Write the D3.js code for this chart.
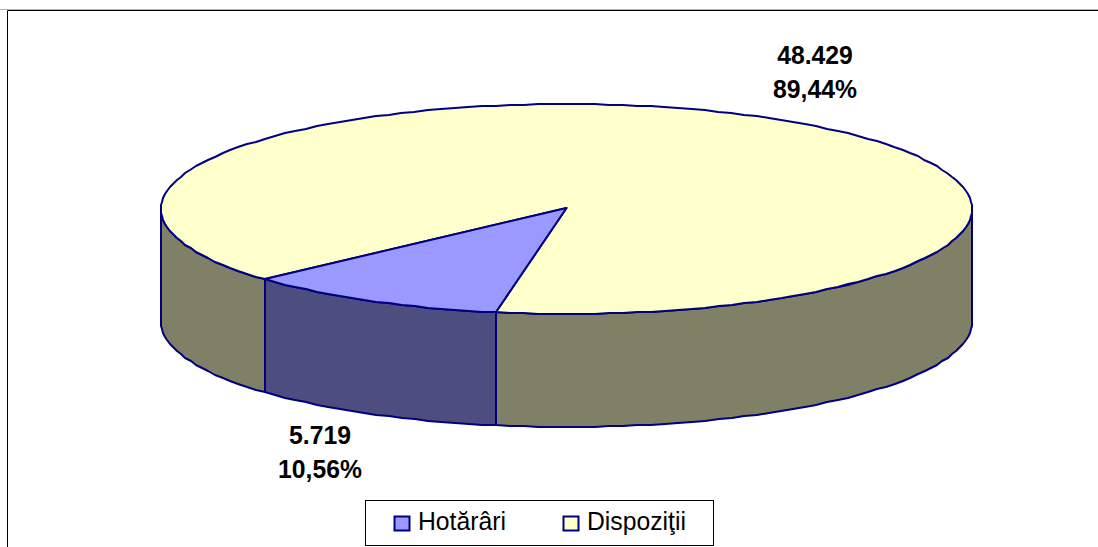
<!DOCTYPE html>
<html>
<head>
<meta charset="utf-8">
<script src="https://cdn.jsdelivr.net/npm/d3@7"></script>
<style>
html,body{margin:0;padding:0;background:#fff;overflow:hidden}
svg{display:block}
text{font-family:"Liberation Sans",Arial,sans-serif;fill:#000}
</style>
</head>
<body>
<svg id="c" width="1098" height="547"></svg>
<script>
const categories = ["Hotărâri", "Dispoziţii"];
const values = [5719, 48429];
const valueLabels = ["5.719", "48.429"];
const percentLabels = ["10,56%", "89,44%"];
const topColors = ["#9999FF", "#FFFFCC"];
const sideColors = ["#4D4D80", "#808066"];
const outline = "#000080";

const svg = d3.select("#c");
const W = 1098, H = 547;
const x = d3.scaleLinear().domain([-1, 1]).range([161, 972]);
const y = d3.scaleLinear().domain([-1, 1]).range([314, 104]);
const depth = 113;
const frontOffset = 0.174;
const start = Math.PI + frontOffset;
const arcs = d3.pie().sort(null).startAngle(start).endAngle(start + 2 * Math.PI)(values);

const px = t => Math.round(x(Math.sin(t)));
const py = (t, dy = 0) => Math.round(y(Math.cos(t))) + dy;
function samples(a, b) {
  const n = Math.max(2, Math.ceil(Math.abs(b - a) / 0.035));
  return d3.range(n + 1).map(i => a + (b - a) * i / n);
}
const line = d3.line().x(d => d[0]).y(d => d[1]);

// frame
svg.append("path").attr("d", `M0,9.5H${W}`).attr("stroke", "#b0b0b0").attr("fill", "none");
svg.append("path").attr("d", `M7.5,${H}V10.5H${W}`).attr("stroke", "#000").attr("fill", "none");

// side walls
const visible = [[Math.PI / 2, 3 * Math.PI / 2], [5 * Math.PI / 2, 7 * Math.PI / 2]];
const walls = svg.append("g");
arcs.forEach((d, i) => {
  visible.forEach(([lo, hi]) => {
    const a = Math.max(d.startAngle, lo), b = Math.min(d.endAngle, hi);
    if (b <= a) return;
    const ts = samples(a, b);
    const upper = ts.map(t => [px(t), py(t)]);
    const lower = ts.slice().reverse().map(t => [px(t), py(t, depth)]);
    walls.append("path")
      .attr("d", line(upper.concat(lower)) + "Z")
      .attr("fill", sideColors[i])
      .attr("stroke", outline)
      .attr("stroke-width", 2)
      .attr("stroke-linejoin", "round");
  });
});

// top face
const cx = x(0), cyTop = y(0) - 1;
const tops = svg.append("g");
[1, 0].forEach(i => {
  const d = arcs[i];
  const pts = samples(d.startAngle, d.endAngle).map(t => [px(t), py(t)]);
  tops.append("path")
    .attr("d", line([[cx, cyTop]].concat(pts)) + "Z")
    .attr("fill", topColors[i])
    .attr("stroke", outline)
    .attr("stroke-width", 2)
    .attr("stroke-linejoin", "round");
});

// data labels, slightly condensed horizontally like the reference
const labelPos = [[320, 444, 478], [815, 64, 98]];
const squeeze = 0.97;
categories.forEach((c, i) => {
  [[labelPos[i][1], valueLabels[i]], [labelPos[i][2], percentLabels[i]]].forEach(([by, s]) => {
    svg.append("text")
      .attr("text-anchor", "middle")
      .attr("transform", `translate(${labelPos[i][0]},${by}) scale(${squeeze},1)`)
      .style("font-size", "25.5px").style("font-weight", "bold").text(s);
  });
});

// legend
svg.append("rect").attr("x", 365.5).attr("y", 500.5).attr("width", 348).attr("height", 45)
  .attr("fill", "#fff").attr("stroke", "#000");
const legendX = [394.5, 563.5];
categories.forEach((c, i) => {
  svg.append("rect").attr("x", legendX[i]).attr("y", 516.5).attr("width", 15).attr("height", 14)
    .attr("fill", topColors[i]).attr("stroke", outline).attr("stroke-width", 2);
  svg.append("text")
    .attr("transform", `translate(${legendX[i] + 23.5},530) scale(${squeeze},1)`)
    .style("font-size", "25.5px").text(c);
});
</script>
</body>
</html>
